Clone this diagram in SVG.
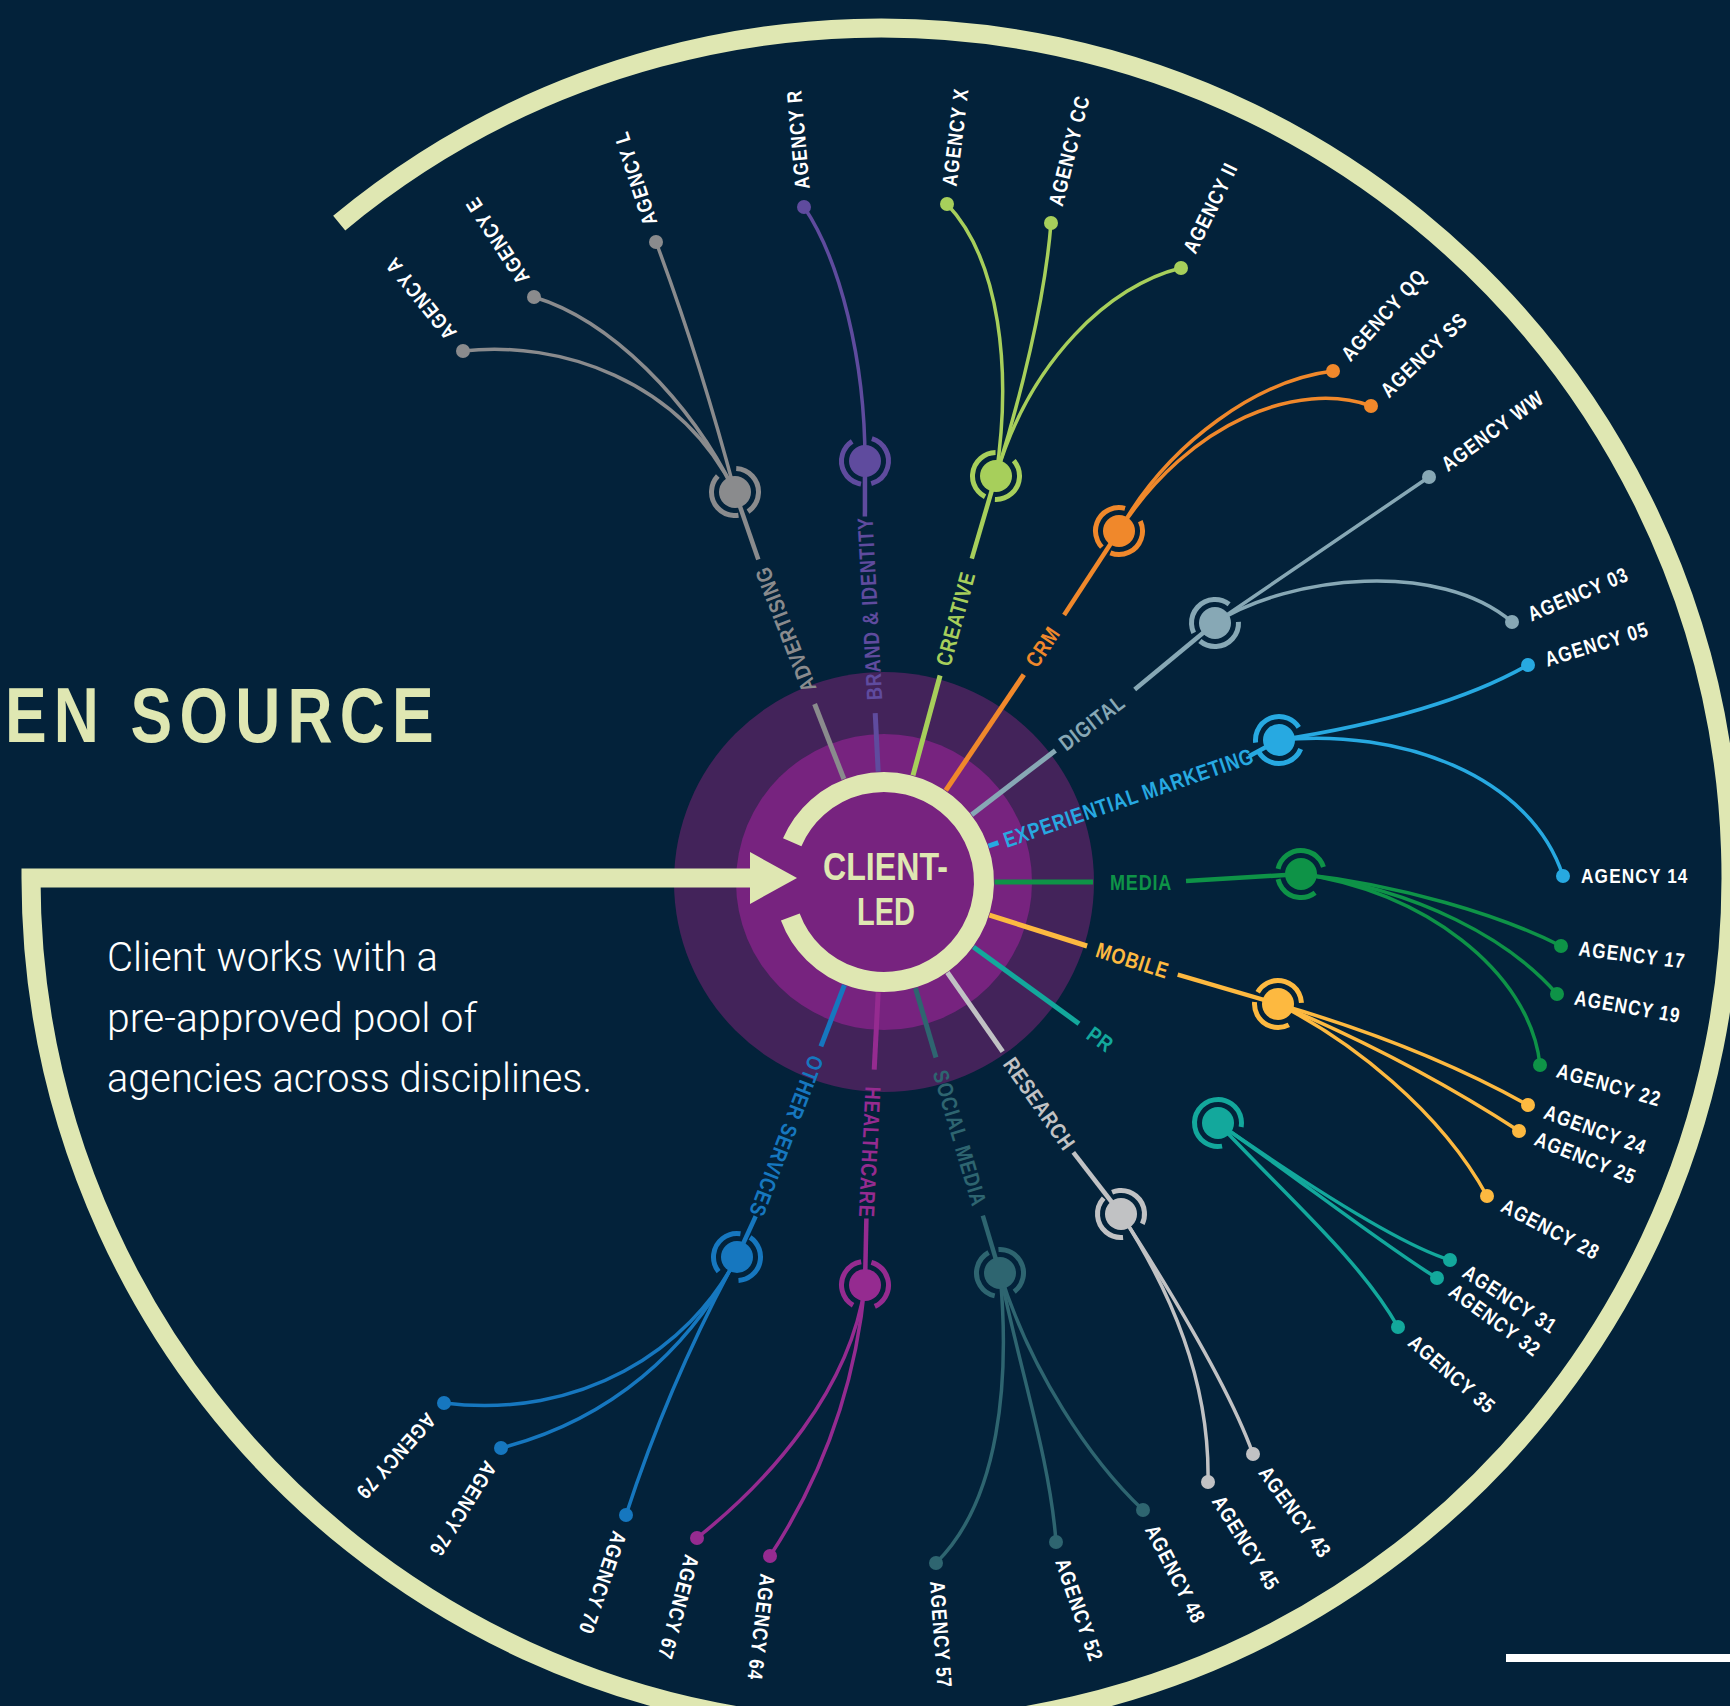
<svg xmlns="http://www.w3.org/2000/svg" width="1730" height="1706" viewBox="0 0 1730 1706">
<style>
.adv{color:#8a8b8d}.brand{color:#5f4b9e}.creative{color:#a7cf5b}.crm{color:#f0882b}.digital{color:#87a8b5}.exp{color:#27a9e1}.media{color:#0e9347}.mobile{color:#fdb940}.pr{color:#13a89c}.research{color:#c1c2c4}.social{color:#2e6570}.health{color:#952b90}.other{color:#1677bf}
.sp{stroke:currentColor;stroke-width:5;fill:none}
.ln{stroke:currentColor;stroke-width:4.5;fill:none}
.cv{stroke:currentColor;stroke-width:3.5;fill:none;stroke-linecap:round}
.hub{fill:currentColor}
.hring{fill:none;stroke:currentColor;stroke-width:5}
.dot{fill:currentColor}
.al{font-family:"Liberation Sans",Arial,sans-serif;font-weight:bold;font-size:21px;fill:#ffffff;letter-spacing:1.4px}
.dl{font-family:"Liberation Sans",Arial,sans-serif;font-weight:bold;font-size:22px;fill:currentColor;letter-spacing:1px}
.cream{fill:#dfe7b2}
</style>
<rect x="0" y="0" width="1730" height="1706" fill="#03223a"/>
<g id="title">
<text transform="scale(0.8,1)" x="6.25" y="742" font-family="Liberation Sans, Arial, sans-serif" font-weight="bold" font-size="78" letter-spacing="9" class="cream">EN SOURCE</text>
</g>
<g id="description" font-family="Roboto, Liberation Sans, Arial, sans-serif" font-weight="300" font-size="41" fill="#ffffff">
<text x="107" y="971" textLength="331" lengthAdjust="spacingAndGlyphs">Client works with a</text>
<text x="107" y="1032" textLength="370" lengthAdjust="spacingAndGlyphs">pre-approved pool of</text>
<text x="107" y="1092" textLength="485" lengthAdjust="spacingAndGlyphs">agencies across disciplines.</text>
</g>
<g id="client-led">
<circle cx="884" cy="882" r="210" fill="#43235a"/>
<circle cx="884" cy="882" r="148" fill="#77237f"/>
<path d="M792.2,842.3 A100,100 0 1 1 790.3,916.9" fill="none" stroke="#dfe7b2" stroke-width="20"/>
<text x="823" y="880" textLength="125" lengthAdjust="spacingAndGlyphs" font-family="Liberation Sans, Arial, sans-serif" font-weight="bold" font-size="39" class="cream">CLIENT-</text>
<text x="857" y="925" textLength="58" lengthAdjust="spacingAndGlyphs" font-family="Liberation Sans, Arial, sans-serif" font-weight="bold" font-size="39" class="cream">LED</text>
</g>
<g id="frame">
<path d="M339.2,223.1 A850,850 0 1 1 31,878 L752,878" fill="none" stroke="#dfe7b2" stroke-width="19"/>
<polygon points="750,852 797,878 750,904" fill="#dfe7b2"/>
<rect x="1506" y="1654" width="230" height="8" fill="#ffffff"/>
</g>
<g id="connectors">
<g class="adv"><line class="sp" x1="843.9" y1="779" x2="814.6" y2="704"/><line class="ln" x1="758.3" y1="559.6" x2="735" y2="492"/>
<path class="cv" d="M735,492 C680,380 560,340 463,351"/><path class="cv" d="M735,492 C690,400 610,320 534,297"/><path class="cv" d="M735,492 Q700,360 656,242"/></g>
<g class="brand"><line class="sp" x1="878.2" y1="771.7" x2="875.2" y2="713.2"/><line class="ln" x1="864.9" y1="516.5" x2="865" y2="461"/>
<path class="cv" d="M865,461 C865,360 840,260 804,207"/></g>
<g class="creative"><line class="sp" x1="913" y1="775.4" x2="940.1" y2="675.5"/><line class="ln" x1="971.8" y1="558.7" x2="996" y2="476"/>
<path class="cv" d="M996,476 C1012,370 1000,260 947,204"/><path class="cv" d="M996,476 C1020,400 1045,300 1051,223"/><path class="cv" d="M996,476 C1030,360 1110,285 1181,268"/></g>
<g class="crm"><line class="sp" x1="945.8" y1="790.4" x2="1023.8" y2="674.7"/><line class="ln" x1="1064.1" y1="615.1" x2="1119" y2="531"/>
<path class="cv" d="M1119,531 C1170,440 1260,380 1333,371"/><path class="cv" d="M1119,531 C1190,420 1300,380 1371,406"/></g>
<g class="digital"><line class="sp" x1="971.7" y1="814.7" x2="1055.4" y2="750.5"/><line class="ln" x1="1134.7" y1="689.6" x2="1215" y2="623"/>
<path class="cv" d="M1215,623 L1429,477"/><path class="cv" d="M1215,623 C1290,575 1440,560 1512,622"/></g>
<g class="exp"><line class="sp" x1="988.5" y1="846" x2="998.4" y2="842.6"/><line class="ln" x1="1249" y1="756.3" x2="1279" y2="740"/>
<path class="cv" d="M1279,740 Q1440,715 1528,665"/><path class="cv" d="M1279,740 C1400,728 1530,775 1563,876"/></g>
<g class="media"><line class="sp" x1="994.5" y1="882" x2="1093" y2="882"/><line class="ln" x1="1186" y1="881" x2="1301" y2="874"/>
<path class="cv" d="M1301,874 C1400,885 1500,915 1561,946"/><path class="cv" d="M1301,874 C1420,890 1510,940 1557,994"/><path class="cv" d="M1301,874 C1420,890 1530,970 1540,1065"/></g>
<g class="mobile"><line class="sp" x1="989.4" y1="915.2" x2="1087.1" y2="946"/><line class="ln" x1="1177.7" y1="974.6" x2="1278" y2="1004"/>
<path class="cv" d="M1278,1004 Q1420,1045 1528,1105"/><path class="cv" d="M1278,1004 Q1410,1060 1519,1131"/><path class="cv" d="M1278,1004 C1350,1040 1440,1110 1487,1196"/></g>
<g class="pr"><line class="sp" x1="973.4" y1="947" x2="1079" y2="1023.7"/>
<path class="cv" d="M1218,1123 C1300,1180 1400,1245 1450,1260"/><path class="cv" d="M1218,1123 C1300,1180 1390,1250 1437,1278"/><path class="cv" d="M1218,1123 C1290,1200 1360,1260 1398,1327"/></g>
<g class="research"><line class="sp" x1="947.4" y1="972.5" x2="1002.7" y2="1051.6"/><line class="ln" x1="1073.3" y1="1152.3" x2="1121" y2="1214"/>
<path class="cv" d="M1121,1214 C1170,1290 1230,1390 1253,1454"/><path class="cv" d="M1121,1214 C1170,1290 1210,1380 1208,1482"/></g>
<g class="social"><line class="sp" x1="915.4" y1="988" x2="936" y2="1057.5"/><line class="ln" x1="982.8" y1="1215.7" x2="1000" y2="1273"/>
<path class="cv" d="M1000,1273 C1030,1370 1090,1460 1143,1510"/><path class="cv" d="M1000,1273 C1020,1370 1050,1460 1056,1542"/><path class="cv" d="M1000,1273 C1010,1380 1000,1500 936,1563"/></g>
<g class="health"><line class="sp" x1="878.2" y1="992.3" x2="874.2" y2="1069.7"/><line class="ln" x1="866.4" y1="1218.5" x2="865" y2="1285"/>
<path class="cv" d="M865,1285 C855,1390 820,1480 770,1556"/><path class="cv" d="M865,1285 C850,1390 770,1480 697,1538"/></g>
<g class="other"><line class="sp" x1="844.4" y1="985.2" x2="820.9" y2="1046.3"/><line class="ln" x1="755.7" y1="1216.2" x2="737" y2="1257"/>
<path class="cv" d="M737,1257 Q670,1380 626,1515"/><path class="cv" d="M737,1257 C690,1350 610,1420 501,1448"/><path class="cv" d="M737,1257 C690,1350 580,1420 444,1403"/></g>
</g>
<g id="hub-advertising" class="adv"><text class="dl" transform="translate(884,882) rotate(-111.3) scale(0.82,1)" x="250" dy=".35em">ADVERTISING</text><circle class="hub" cx="735" cy="492" r="16"/><circle class="hring" cx="735" cy="492" r="23.5" pathLength="360" stroke-dasharray="143.2 25 141.8 50" transform="rotate(-87 735 492)"/></g>
<g id="hub-brand" class="brand"><text class="dl" transform="translate(884,882) rotate(-93) scale(0.82,1)" x="222" dy=".35em">BRAND &amp; IDENTITY</text><circle class="hub" cx="865" cy="461" r="16"/><circle class="hring" cx="865" cy="461" r="23.5" pathLength="360" stroke-dasharray="147.5 25 137.5 50" transform="rotate(-73 865 461)"/></g>
<g id="hub-creative" class="creative"><text class="dl" transform="translate(884,882) rotate(-74.8) scale(0.82,1)" x="274" dy=".35em">CREATIVE</text><circle class="hub" cx="996" cy="476" r="16"/><circle class="hring" cx="996" cy="476" r="23.5" pathLength="360" stroke-dasharray="133.7 25 151.3 50" transform="rotate(-41 996 476)"/></g>
<g id="hub-crm" class="crm"><text class="dl" transform="translate(884,882) rotate(-56) scale(0.82,1)" x="319.5" dy=".35em">CRM</text><circle class="hub" cx="1119" cy="531" r="16"/><circle class="hring" cx="1119" cy="531" r="23.5" pathLength="360" stroke-dasharray="136.5 25 148.5 50" transform="rotate(-25 1119 531)"/></g>
<g id="hub-digital" class="digital"><text class="dl" transform="translate(884,882) rotate(-37.5) scale(0.82,1)" x="273" dy=".35em">DIGITAL</text><circle class="hub" cx="1215" cy="623" r="16"/><circle class="hring" cx="1215" cy="623" r="23.5" pathLength="360" stroke-dasharray="133 25 152 50" transform="rotate(-3 1215 623)"/></g>
<g id="hub-experiential" class="exp"><text class="dl" transform="translate(884,882) rotate(-19) scale(0.82,1)" x="155" dy=".35em">EXPERIENTIAL MARKETING</text><circle class="hub" cx="1279" cy="740" r="16"/><circle class="hring" cx="1279" cy="740" r="23.5" pathLength="360" stroke-dasharray="126 25 154 55" transform="rotate(22.5 1279 740)"/></g>
<g id="hub-media" class="media"><text class="dl" transform="translate(884,882) rotate(0) scale(0.82,1)" x="275.6" dy=".35em">MEDIA</text><circle class="hub" cx="1301" cy="874" r="16"/><circle class="hring" cx="1301" cy="874" r="23.5" pathLength="360" stroke-dasharray="114.5 25 150.5 70" transform="rotate(53 1301 874)"/></g>
<g id="hub-mobile" class="mobile"><text class="dl" transform="translate(884,882) rotate(17.5) scale(0.82,1)" x="272" dy=".35em">MOBILE</text><circle class="hub" cx="1278" cy="1004" r="16"/><circle class="hring" cx="1278" cy="1004" r="23.5" pathLength="360" stroke-dasharray="122.5 25 147.5 65" transform="rotate(62.5 1278 1004)"/></g>
<g id="hub-pr" class="pr"><text class="dl" transform="translate(884,882) rotate(36) scale(0.82,1)" x="310" dy=".35em">PR</text><circle class="hub" cx="1218" cy="1123" r="16"/><circle class="hring" cx="1218" cy="1123" r="23.5" pathLength="360" stroke-dasharray="290 70" transform="rotate(80 1218 1123)"/></g>
<g id="hub-research" class="research"><text class="dl" transform="translate(884,882) rotate(55) scale(0.82,1)" x="264.6" dy=".35em">RESEARCH</text><circle class="hub" cx="1121" cy="1214" r="16"/><circle class="hring" cx="1121" cy="1214" r="23.5" pathLength="360" stroke-dasharray="137.5 25 137.5 60" transform="rotate(85 1121 1214)"/></g>
<g id="hub-social-media" class="social"><text class="dl" transform="translate(884,882) rotate(73.5) scale(0.82,1)" x="240" dy=".35em">SOCIAL MEDIA</text><circle class="hub" cx="1000" cy="1273" r="16"/><circle class="hring" cx="1000" cy="1273" r="23.5" pathLength="360" stroke-dasharray="138 25 147 50" transform="rotate(103 1000 1273)"/></g>
<g id="hub-healthcare" class="health"><text class="dl" transform="translate(884,882) rotate(93) scale(0.82,1)" x="250" dy=".35em">HEALTHCARE</text><circle class="hub" cx="865" cy="1285" r="16"/><circle class="hring" cx="865" cy="1285" r="23.5" pathLength="360" stroke-dasharray="140 25 140 55" transform="rotate(120.5 865 1285)"/></g>
<g id="hub-other-services" class="other"><text class="dl" transform="translate(884,882) rotate(111) scale(0.82,1)" x="228" dy=".35em">OTHER SERVICES</text><circle class="hub" cx="737" cy="1257" r="16"/><circle class="hring" cx="737" cy="1257" r="23.5" pathLength="360" stroke-dasharray="137 25 143 55" transform="rotate(141.5 737 1257)"/></g>
<g id="agency-a" class="adv"><circle class="dot" cx="463" cy="351" r="7"/><text class="al" transform="translate(463,351) rotate(-129) scale(0.82,1)" x="22" dy=".35em">AGENCY A</text></g>
<g id="agency-e" class="adv"><circle class="dot" cx="534" cy="297" r="7"/><text class="al" transform="translate(534,297) rotate(-123) scale(0.82,1)" x="22" dy=".35em">AGENCY E</text></g>
<g id="agency-l" class="adv"><circle class="dot" cx="656" cy="242" r="7"/><text class="al" transform="translate(656,242) rotate(-108) scale(0.82,1)" x="22" dy=".35em">AGENCY L</text></g>
<g id="agency-r" class="brand"><circle class="dot" cx="804" cy="207" r="7"/><text class="al" transform="translate(804,207) rotate(-95) scale(0.82,1)" x="22" dy=".35em">AGENCY R</text></g>
<g id="agency-x" class="creative"><circle class="dot" cx="947" cy="204" r="7"/><text class="al" transform="translate(947,204) rotate(-83) scale(0.82,1)" x="22" dy=".35em">AGENCY X</text></g>
<g id="agency-cc" class="creative"><circle class="dot" cx="1051" cy="223" r="7"/><text class="al" transform="translate(1051,223) rotate(-76) scale(0.82,1)" x="22" dy=".35em">AGENCY CC</text></g>
<g id="agency-ii" class="creative"><circle class="dot" cx="1181" cy="268" r="7"/><text class="al" transform="translate(1181,268) rotate(-64) scale(0.82,1)" x="22" dy=".35em">AGENCY II</text></g>
<g id="agency-qq" class="crm"><circle class="dot" cx="1333" cy="371" r="7"/><text class="al" transform="translate(1333,371) rotate(-48) scale(0.82,1)" x="22" dy=".35em">AGENCY QQ</text></g>
<g id="agency-ss" class="crm"><circle class="dot" cx="1371" cy="406" r="7"/><text class="al" transform="translate(1371,406) rotate(-44) scale(0.82,1)" x="22" dy=".35em">AGENCY SS</text></g>
<g id="agency-ww" class="digital"><circle class="dot" cx="1429" cy="477" r="7"/><text class="al" transform="translate(1429,477) rotate(-36) scale(0.82,1)" x="22" dy=".35em">AGENCY WW</text></g>
<g id="agency-03" class="digital"><circle class="dot" cx="1512" cy="622" r="7"/><text class="al" transform="translate(1512,622) rotate(-23) scale(0.82,1)" x="22" dy=".35em">AGENCY 03</text></g>
<g id="agency-05" class="exp"><circle class="dot" cx="1528" cy="665" r="7"/><text class="al" transform="translate(1528,665) rotate(-17) scale(0.82,1)" x="22" dy=".35em">AGENCY 05</text></g>
<g id="agency-14" class="exp"><circle class="dot" cx="1563" cy="876" r="7"/><text class="al" transform="translate(1563,876) rotate(0) scale(0.82,1)" x="22" dy=".35em">AGENCY 14</text></g>
<g id="agency-17" class="media"><circle class="dot" cx="1561" cy="946" r="7"/><text class="al" transform="translate(1561,946) rotate(7) scale(0.82,1)" x="22" dy=".35em">AGENCY 17</text></g>
<g id="agency-19" class="media"><circle class="dot" cx="1557" cy="994" r="7"/><text class="al" transform="translate(1557,994) rotate(10) scale(0.82,1)" x="22" dy=".35em">AGENCY 19</text></g>
<g id="agency-22" class="media"><circle class="dot" cx="1540" cy="1065" r="7"/><text class="al" transform="translate(1540,1065) rotate(16) scale(0.82,1)" x="22" dy=".35em">AGENCY 22</text></g>
<g id="agency-24" class="mobile"><circle class="dot" cx="1528" cy="1105" r="7"/><text class="al" transform="translate(1528,1105) rotate(20) scale(0.82,1)" x="22" dy=".35em">AGENCY 24</text></g>
<g id="agency-25" class="mobile"><circle class="dot" cx="1519" cy="1131" r="7"/><text class="al" transform="translate(1519,1131) rotate(22) scale(0.82,1)" x="22" dy=".35em">AGENCY 25</text></g>
<g id="agency-28" class="mobile"><circle class="dot" cx="1487" cy="1196" r="7"/><text class="al" transform="translate(1487,1196) rotate(27.5) scale(0.82,1)" x="22" dy=".35em">AGENCY 28</text></g>
<g id="agency-31" class="pr"><circle class="dot" cx="1450" cy="1260" r="7"/><text class="al" transform="translate(1450,1260) rotate(33) scale(0.82,1)" x="22" dy=".35em">AGENCY 31</text></g>
<g id="agency-32" class="pr"><circle class="dot" cx="1437" cy="1278" r="7"/><text class="al" transform="translate(1437,1278) rotate(36) scale(0.82,1)" x="22" dy=".35em">AGENCY 32</text></g>
<g id="agency-35" class="pr"><circle class="dot" cx="1398" cy="1327" r="7"/><text class="al" transform="translate(1398,1327) rotate(41) scale(0.82,1)" x="22" dy=".35em">AGENCY 35</text></g>
<g id="agency-43" class="research"><circle class="dot" cx="1253" cy="1454" r="7"/><text class="al" transform="translate(1253,1454) rotate(54) scale(0.82,1)" x="22" dy=".35em">AGENCY 43</text></g>
<g id="agency-45" class="research"><circle class="dot" cx="1208" cy="1482" r="7"/><text class="al" transform="translate(1208,1482) rotate(58) scale(0.82,1)" x="22" dy=".35em">AGENCY 45</text></g>
<g id="agency-48" class="social"><circle class="dot" cx="1143" cy="1510" r="7"/><text class="al" transform="translate(1143,1510) rotate(63) scale(0.82,1)" x="22" dy=".35em">AGENCY 48</text></g>
<g id="agency-52" class="social"><circle class="dot" cx="1056" cy="1542" r="7"/><text class="al" transform="translate(1056,1542) rotate(71) scale(0.82,1)" x="22" dy=".35em">AGENCY 52</text></g>
<g id="agency-57" class="social"><circle class="dot" cx="936" cy="1563" r="7"/><text class="al" transform="translate(936,1563) rotate(86) scale(0.82,1)" x="22" dy=".35em">AGENCY 57</text></g>
<g id="agency-64" class="health"><circle class="dot" cx="770" cy="1556" r="7"/><text class="al" transform="translate(770,1556) rotate(97) scale(0.82,1)" x="22" dy=".35em">AGENCY 64</text></g>
<g id="agency-67" class="health"><circle class="dot" cx="697" cy="1538" r="7"/><text class="al" transform="translate(697,1538) rotate(105) scale(0.82,1)" x="22" dy=".35em">AGENCY 67</text></g>
<g id="agency-70" class="other"><circle class="dot" cx="626" cy="1515" r="7"/><text class="al" transform="translate(626,1515) rotate(109) scale(0.82,1)" x="22" dy=".35em">AGENCY 70</text></g>
<g id="agency-76" class="other"><circle class="dot" cx="501" cy="1448" r="7"/><text class="al" transform="translate(501,1448) rotate(122) scale(0.82,1)" x="22" dy=".35em">AGENCY 76</text></g>
<g id="agency-79" class="other"><circle class="dot" cx="444" cy="1403" r="7"/><text class="al" transform="translate(444,1403) rotate(132) scale(0.82,1)" x="22" dy=".35em">AGENCY 79</text></g>
</svg>
